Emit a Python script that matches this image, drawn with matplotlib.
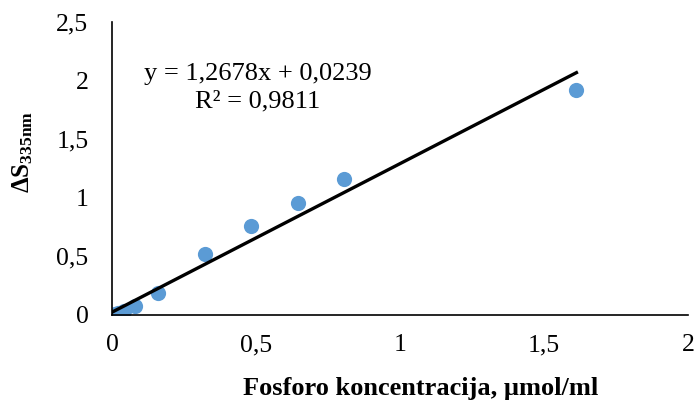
import numpy as np
import matplotlib.pyplot as plt
from matplotlib.ticker import FuncFormatter

plt.rcParams['font.family'] = 'Liberation Serif'
plt.rcParams['mathtext.fontset'] = 'custom'
plt.rcParams['mathtext.rm'] = 'Liberation Serif'
plt.rcParams['mathtext.bf'] = 'Liberation Serif:bold'

# phosphorus concentration (umol/ml) and measured absorbance change
conc = [0, 0.0101, 0.0202, 0.0403, 0.0806, 0.16125, 0.3225, 0.48375, 0.645, 0.80625, 1.6125]
dS = [0, 0.005, 0.015, 0.035, 0.075, 0.19, 0.52, 0.76, 0.96, 1.16, 1.92]

slope = 1.2678
intercept = 0.0239
r2 = 0.9811

def comma(v, pos):
    s = ('%g' % v)
    return s.replace('.', ',')

fig = plt.figure(figsize=(6.98, 4.01), dpi=100)
ax = fig.add_axes([0.1605, 0.2145, 0.8252, 0.7305])

ax.scatter(conc, dS, s=120, color='#5B9BD5', zorder=2, linewidths=0)

xl = np.array([min(conc), max(conc)])
ax.plot(xl, slope * xl + intercept, color='black', lw=2.4, zorder=3)

eq = 'y = %sx + %s\nR² = %s' % (comma(slope, 0), comma(intercept, 0), comma(r2, 0))
ax.text(0.507, 1.94, eq, ha='center', va='center', fontsize=19, linespacing=1.27)

ax.set_xlim(0, 2)
ax.set_ylim(0, 2.5)
ax.set_xticks([0, 0.5, 1, 1.5, 2])
ax.set_yticks([0, 0.5, 1, 1.5, 2, 2.5])
ax.xaxis.set_major_formatter(FuncFormatter(comma))
ax.yaxis.set_major_formatter(FuncFormatter(comma))
ax.tick_params(length=0, labelsize=18.5)
ax.tick_params(axis='x', pad=14)
ax.tick_params(axis='y', pad=17)

for side in ['top', 'right']:
    ax.spines[side].set_visible(False)
for side in ['left', 'bottom']:
    ax.spines[side].set_linewidth(1.2)

ax.set_xlabel('Fosforo koncentracija, µmol/ml', fontsize=19, fontweight='bold')
ax.xaxis.set_label_coords(0.535, -0.21)
ax.set_ylabel(r'$\mathbf{\Delta S_{335nm}}$', fontsize=18)
ax.yaxis.set_label_coords(-0.134, 0.555)

fig.savefig('out.png', dpi=100)
